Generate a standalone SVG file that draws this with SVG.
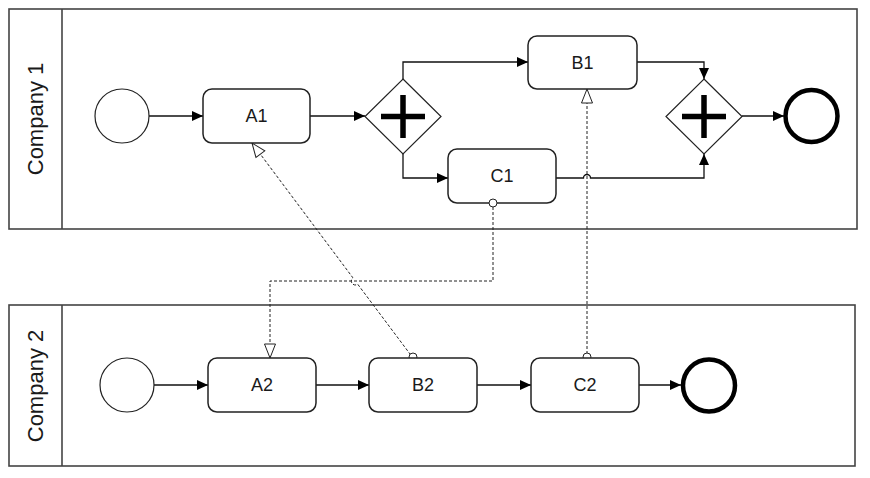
<svg xmlns="http://www.w3.org/2000/svg" width="870" height="478" viewBox="0 0 870 478">
<style>
.pool{fill:#fff;stroke:#444;stroke-width:1.6}
.hdr{stroke:#444;stroke-width:1.6}
.lbl{font-family:"Liberation Sans",Arial,sans-serif;fill:#1a1a1a;text-anchor:middle;dominant-baseline:central}
.task{fill:#fff;stroke:#222;stroke-width:1.5}
.start{fill:#fff;stroke:#222;stroke-width:1.2}
.end{fill:#fff;stroke:#000;stroke-width:4.5}
.gw{fill:#fff;stroke:#222;stroke-width:1.2}
.plus{stroke:#000;stroke-width:5.5;fill:none}
.seq{fill:none;stroke:#111;stroke-width:1.3}
.msg{fill:none;stroke:#222;stroke-width:1;stroke-dasharray:3,2}
.mstart{fill:#fff;stroke:#222;stroke-width:1}
</style>
<defs>
<marker id="arr" markerUnits="userSpaceOnUse" markerWidth="12" markerHeight="11" refX="11" refY="5" orient="auto">
<path d="M0,0 L11,5 L0,10 z" fill="#000"/>
</marker>
<marker id="harr" markerUnits="userSpaceOnUse" markerWidth="17" markerHeight="14" refX="15" refY="6.5" orient="auto">
<path d="M1,1 L15,6.5 L1,12 z" fill="#fff" stroke="#222" stroke-width="1"/>
</marker>
</defs>

<g id="pool1">
<rect class="pool" x="9" y="9" width="848" height="220"/>
<line class="hdr" x1="62" y1="9" x2="62" y2="229"/>
<text class="lbl" font-size="22" transform="translate(35,119) rotate(-90)">Company 1</text>
</g>
<g id="pool2">
<rect class="pool" x="9" y="305" width="846" height="161"/>
<line class="hdr" x1="62" y1="305" x2="62" y2="466"/>
<text class="lbl" font-size="22" transform="translate(35,386) rotate(-90)">Company 2</text>
</g>

<g id="connectors">
<path class="seq" d="M149,116 L203,116" marker-end="url(#arr)"/>
<path class="seq" d="M310,116 L365,116" marker-end="url(#arr)"/>
<path class="seq" d="M403,79 L403,62 L528,62" marker-end="url(#arr)"/>
<path class="seq" d="M403,154 L403,178 L448,178" marker-end="url(#arr)"/>
<path class="seq" d="M637,62 L704,62 L704,79" marker-end="url(#arr)"/>
<path class="seq" d="M556,178 L583.5,178 A3.5,3.5 0 0 1 590.5,178 L704,178 L704,154" marker-end="url(#arr)"/>
<path class="seq" d="M742,116 L784,116" marker-end="url(#arr)"/>
<path class="seq" d="M154,385 L208,385" marker-end="url(#arr)"/>
<path class="seq" d="M316,385 L369,385" marker-end="url(#arr)"/>
<path class="seq" d="M477,385 L531,385" marker-end="url(#arr)"/>
<path class="seq" d="M639,385 L681,385" marker-end="url(#arr)"/>

<path class="msg" d="M493,207 L493,281 L270,281 L270,358" marker-end="url(#harr)"/>
<path class="msg" d="M410.6,354.8 L357.7,284.2 A4,4 0 0 1 352.9,277.8 L252,143" marker-end="url(#harr)"/>
<path class="msg" d="M587,354 L587,89" marker-end="url(#harr)"/>
<circle class="mstart" cx="413" cy="357" r="4"/>
<circle class="mstart" cx="587" cy="357" r="4"/>
</g>

<g id="start1"><circle class="start" cx="122" cy="116" r="27"/></g>
<g id="A1"><rect class="task" x="203" y="89" width="107" height="54" rx="9"/><text class="lbl" font-size="18" x="256.5" y="116">A1</text></g>
<g id="gateway1"><path class="gw" d="M403,79 L441,116.5 L403,154 L365,116.5 z"/><path class="plus" d="M381,116.5 H425 M403,95 V138"/></g>
<g id="B1"><rect class="task" x="528" y="36" width="109" height="53" rx="9"/><text class="lbl" font-size="18" x="582.5" y="62.5">B1</text></g>
<g id="C1"><rect class="task" x="448" y="149" width="108" height="54" rx="9"/><text class="lbl" font-size="18" x="502" y="176">C1</text></g>
<g id="gateway2"><path class="gw" d="M704,79 L742,116.5 L704,154 L666,116.5 z"/><path class="plus" d="M682,116.5 H726 M704,95 V138"/></g>
<g id="end1"><circle class="end" cx="811.5" cy="116" r="26"/></g>

<g id="start2"><circle class="start" cx="127" cy="385" r="27"/></g>
<g id="A2"><rect class="task" x="208" y="358" width="108" height="54" rx="9"/><text class="lbl" font-size="18" x="262" y="385">A2</text></g>
<g id="B2"><rect class="task" x="369" y="358" width="108" height="54" rx="9"/><text class="lbl" font-size="18" x="423" y="385">B2</text></g>
<g id="C2"><rect class="task" x="531" y="358" width="108" height="54" rx="9"/><text class="lbl" font-size="18" x="585" y="385">C2</text></g>
<g id="end2"><circle class="end" cx="709" cy="385.5" r="26"/></g>
<g id="msg-source-C1"><circle class="mstart" cx="493" cy="203" r="4"/></g>
</svg>
